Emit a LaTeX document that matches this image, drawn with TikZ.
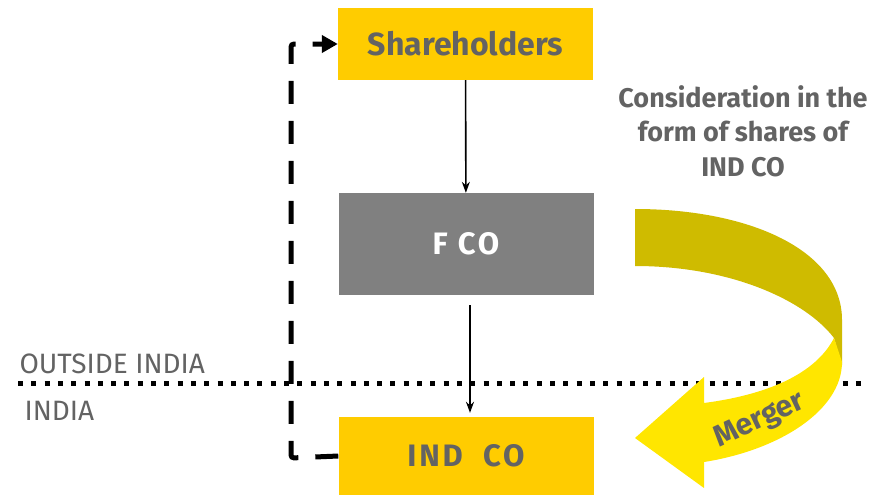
\documentclass[tikz,border=0pt]{standalone}
\usepackage{fontspec}
\setmainfont{Fira Sans}
\usetikzlibrary{arrows.meta}
\definecolor{eyyellow}{HTML}{FFCC00}
\definecolor{eygray}{HTML}{808080}
\definecolor{eytext}{HTML}{636363}
\definecolor{ribbondark}{HTML}{CFBB00}
\definecolor{ribbonlight}{HTML}{FFE600}
\begin{document}
\begin{tikzpicture}[x=1pt, y=-1pt,
		box/.style={fill=eyyellow, text=eytext, font=\bfseries\fontsize{31}{33}\selectfont\addfontfeatures{LetterSpace=9}, minimum width=255pt, inner sep=0pt},
		flow/.style={-{Stealth[length=11pt, width=8pt]}, line width=1.6pt, black},
		loop/.style={line width=5pt, dash pattern=on 23pt off 17pt, rounded corners=3pt},
		zone/.style={text=eytext, font=\fontsize{28}{30}\selectfont, anchor=base west}]
	\useasboundingbox (0,0) rectangle (891,501);

	\node[box, minimum height=72pt, font=\bfseries\fontsize{32}{34}\selectfont] (sh) at (465.5,44) {Shareholders};
	\node[box, fill=eygray, text=white, minimum height=102pt] (fco) at (466,244) {F CO};
	\node[box, minimum height=78pt] (ind) at (466,456) {IND\ \ CO};

	\draw[flow] (sh) -- (fco);
	\draw[flow, shorten <=10pt, shorten >=4pt] ([xshift=4pt]fco.south) -- ([xshift=4pt]ind.north);

	% dotted border line
	\coordinate (dl) at (18,383);
	\coordinate (dr) at (868,383);
	\draw[line width=5pt, dash pattern=on 5pt off 8.3pt] (dl) -- (dr);
	\node[zone] (out) at (16,373) {OUTSIDE INDIA};
	\node[zone] (in) at (21,420) {INDIA};

	% dashed loop back to the shareholders
	\coordinate (corner) at (291,458);
	\draw[loop, -{Triangle[length=16pt, width=17pt]}] (ind.west) -- (corner) |- (sh.west);

	% merger ribbon
	\fill[ribbondark] (635,209) .. controls (749,209) and (842,250) .. (842,320)
		-- (842,365) -- (834,338) .. controls (805,300) and (730,266) .. (635,266) -- cycle;
	\fill[ribbonlight] (834,338) -- (842,362) .. controls (842,410) and (780,450) .. (704,462)
		-- (704,488) -- (635,438) -- (704,377) -- (704,403)
		.. controls (765,395) and (815,375) .. cycle;
	\node[text=eytext, font=\bfseries\fontsize{30}{32}\selectfont, rotate=25, inner sep=0pt] (merger) at (760,421) {Merger};

	\node[text=eytext, font=\bfseries\fontsize{27}{34.5}\selectfont, align=center] (note) at (743,131)
		{Consideration in the\\form of shares of\\IND CO};
\end{tikzpicture}
\end{document}
